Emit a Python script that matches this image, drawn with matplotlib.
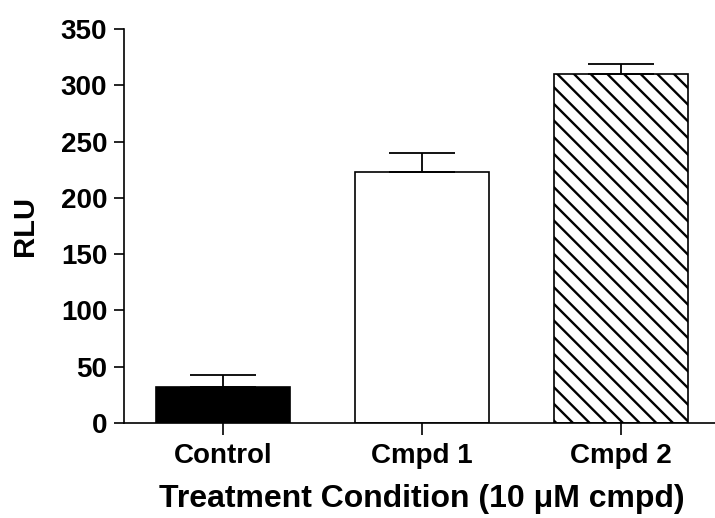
import numpy as np
import matplotlib
matplotlib.use("Agg")
import matplotlib.pyplot as plt

# values
groups = ["Control", "Cmpd 1", "Cmpd 2"]
rlu = [32, 223, 310]
rlu_err = [10.5, 17, 8.5]
fills = ["black", "white", "white"]
hatches = ["", "", "\\\\"]

plt.rcParams['font.family'] = ['Liberation Sans', 'DejaVu Sans']
plt.rcParams['font.weight'] = 'bold'
plt.rcParams['hatch.linewidth'] = 1.7

fig = plt.figure(figsize=(7.15, 5.18), dpi=100)
ax = fig.add_axes([124/715, 95/518, (720-124)/715, (423-29)/518])

x = np.arange(len(groups))
bars = ax.bar(x, rlu, width=0.673, color=fills, edgecolor="black", linewidth=1.2, zorder=2)
for b, h in zip(bars, hatches):
    b.set_hatch(h)

# only the upper half of the error bar is drawn
ax.errorbar(x, rlu, yerr=[np.zeros(len(rlu)), rlu_err], fmt="none", ecolor="black",
            elinewidth=1.3, capsize=24, capthick=1.3, zorder=3)

ax.set_xlim(-0.5, 2.5)
ax.set_ylim(0, 350)
ax.set_yticks(np.arange(0, 351, 50))
ax.set_xticks(x)
ax.set_xticklabels(groups)

for s in ["top", "right"]:
    ax.spines[s].set_visible(False)
for s in ["left", "bottom"]:
    ax.spines[s].set_linewidth(1.2)

ax.tick_params(axis="y", length=7, width=1.2, pad=5, labelsize=20)
ax.tick_params(axis="x", length=8.5, width=1.2, pad=6, labelsize=20)

ax.set_ylabel("RLU", fontsize=21, fontweight="bold", labelpad=16)
ax.set_xlabel("Treatment Condition (10 \u03bcM cmpd)", fontsize=23, fontweight="bold", labelpad=11)

fig.savefig("out.png", dpi=100)
